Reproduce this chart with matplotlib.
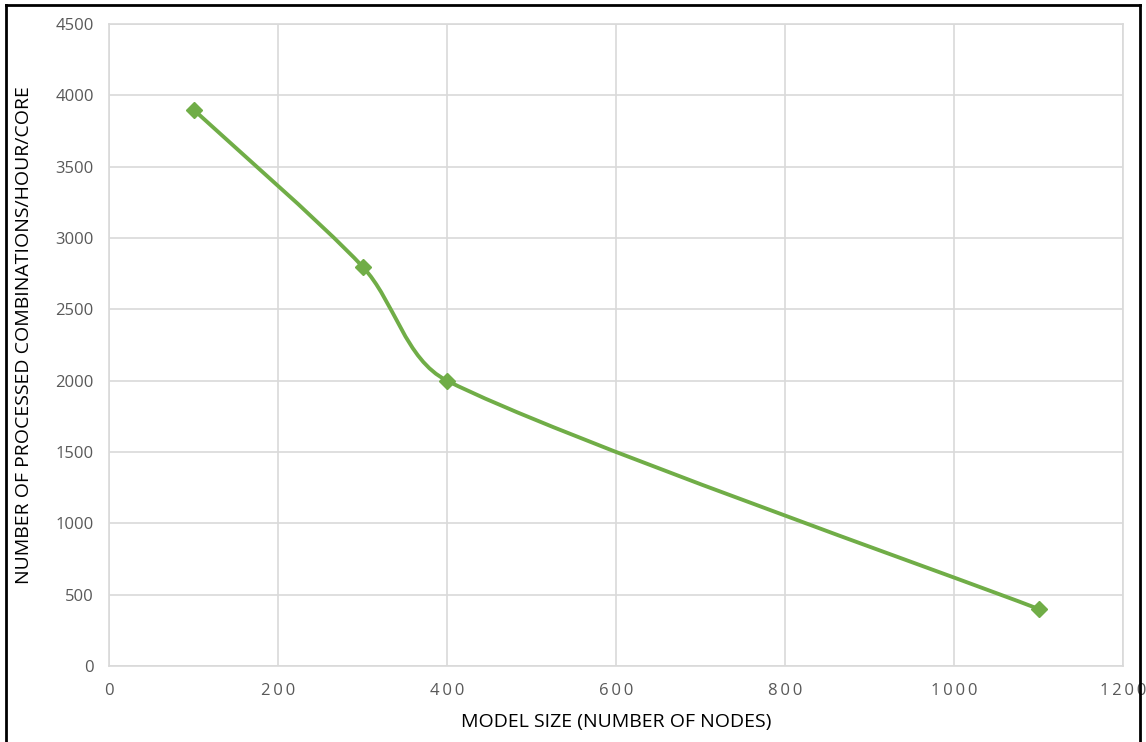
import matplotlib
matplotlib.use('Agg')
import matplotlib.pyplot as plt
from matplotlib.path import Path
from matplotlib.patches import PathPatch
from matplotlib.lines import Line2D
from matplotlib.ticker import FuncFormatter
import numpy as np

# data
model_size = [100, 300, 400, 1100]
combos_per_hour = [3900, 2800, 2000, 400]

GREEN = "#70AD47"
GRID = "#D9D9D9"
TXT = "#595959"

plt.rcParams['font.family'] = ['Open Sans', 'DejaVu Sans']


def clamp(v, max_len):
    n = np.hypot(*v)
    return v * (max_len / n) if n > max_len else v


def excel_smooth_path(ax, xs, ys):
    """Bezier path close to Excel's smoothed line, built in pixel space."""
    pix = ax.transData.transform(np.column_stack([xs, ys]).astype(float))
    n = len(pix)
    verts = [pix[0]]
    codes = [Path.MOVETO]
    for i in range(n - 1):
        p1, p2 = pix[i], pix[i + 1]
        p0 = pix[i - 1] if i > 0 else p1
        p3 = pix[i + 2] if i + 2 < n else p2
        seg = np.hypot(*(p2 - p1))
        c1 = p1 + clamp((p2 - p0) / 6.0, seg / 3.0)
        c2 = p2 - clamp((p3 - p1) / 6.0, seg / 3.0)
        verts += [c1, c2, p2]
        codes += [Path.CURVE4] * 3
    data = ax.transData.inverted().transform(np.array(verts))
    return Path(data, codes)


fig = plt.figure(figsize=(11.46, 7.42), dpi=100)
ax = fig.add_axes([109 / 1146, (742 - 666) / 742, (1123 - 109) / 1146, (666 - 24) / 742])

ax.set_xlim(0, 1200)
ax.set_ylim(0, 4500)
ax.set_xticks(np.arange(0, 1201, 200))
ax.set_yticks(np.arange(0, 4501, 500))
ax.xaxis.set_major_formatter(FuncFormatter(lambda v, p: "\u2009".join(str(int(v)))))
ax.grid(True, color=GRID, linewidth=1.2)
ax.set_axisbelow(True)
for s in ax.spines.values():
    s.set_color(GRID)
    s.set_linewidth(1.2)
ax.tick_params(length=0, colors=TXT, labelsize=12)
ax.tick_params(axis='y', pad=11)
ax.tick_params(axis='x', pad=12)

patch = PathPatch(excel_smooth_path(ax, model_size, combos_per_hour), facecolor='none',
                  edgecolor=GREEN, linewidth=2.8, capstyle='round', zorder=3)
ax.add_patch(patch)
ax.plot(model_size, combos_per_hour, linestyle='none', marker='D', markersize=8,
        color=GREEN, zorder=4)

ax.set_xlabel("MODEL SIZE (NUMBER OF NODES)", fontsize=14, color='black', labelpad=10)
ax.set_ylabel("NUMBER OF PROCESSED COMBINATIONS/HOUR/CORE", fontsize=14, color='black')
ax.yaxis.set_label_coords(-0.075, 0.516)

# outer frame of the exported chart
frame = dict(color='black', linewidth=2, transform=fig.transFigure)
fig.add_artist(Line2D([6 / 1146, 6 / 1146], [0, 1 - 5 / 742], **frame))
fig.add_artist(Line2D([6 / 1146, 1140 / 1146], [1 - 5 / 742, 1 - 5 / 742], **frame))
fig.add_artist(Line2D([1140 / 1146, 1140 / 1146], [0, 1 - 5 / 742], **frame))

fig.savefig("out.png", dpi=100)
